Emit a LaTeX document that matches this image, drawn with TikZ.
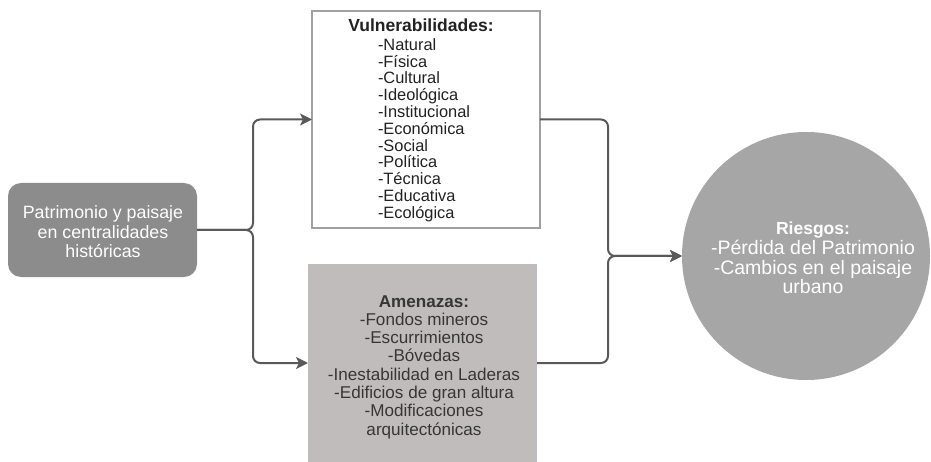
\documentclass[tikz,border=0pt]{standalone}
\usepackage{fontspec}
\setmainfont{Liberation Sans}
\usetikzlibrary{arrows.meta}
\definecolor{boxdark}{HTML}{8C8C8C}
\definecolor{amen}{HTML}{C1BCBC}
\definecolor{circ}{HTML}{A6A6A6}
\definecolor{connc}{HTML}{595959}
\definecolor{vborder}{HTML}{A0A0A0}
\definecolor{txtdark}{HTML}{222222}
\definecolor{txtgrey}{HTML}{363636}
\begin{document}
\begin{tikzpicture}[x=1pt,y=-1pt,
  shapebox/.style={inner sep=0pt, outer sep=0pt},
  txt/.style={inner sep=0pt, outer sep=0pt},
  connector/.style={draw=connc, line width=2pt, rounded corners=7pt},
  tip/.style={-{Stealth[length=12pt,width=12pt,inset=3pt]}}]
\useasboundingbox (0,0) rectangle (931,462);
% shapes
\node[shapebox, fill=boxdark, rounded corners=13pt, minimum width=189pt, minimum height=94pt] (P) at (102.5,230) {};
\node[shapebox, draw=vborder, line width=1.5pt, fill=white, minimum width=228pt, minimum height=217pt] (V) at (426,119.5) {};
\node[shapebox, fill=amen, minimum width=229pt, minimum height=198pt] (A) at (422.5,363) {};
\node[shapebox, fill=circ, circle, minimum size=248pt] (R) at (806,256) {};
% texts
\node[txt, text=white, align=center, font=\fontsize{17.8}{19.5}\selectfont] (Pt) at (103,232) {Patrimonio y paisaje\\en centralidades\\históricas};
\node[txt, text=txtdark, font=\bfseries\fontsize{17.5}{19}\selectfont] (Vt) at (421,25) {Vulnerabilidades:};
\node[txt, text=txtdark, align=left, anchor=west, font=\fontsize{16.4}{16.8}\selectfont] (Vl) at (378,130) {-Natural\\-Física\\-Cultural\\-Ideológica\\-Institucional\\-Económica\\-Social\\-Política\\-Técnica\\-Educativa\\-Ecológica};
\node[txt, text=txtgrey, align=center, font=\fontsize{17.1}{18.3}\selectfont] (At) at (424,367) {\textbf{Amenazas:}\\-Fondos mineros\\-Escurrimientos\\-Bóvedas\\-Inestabilidad en Laderas\\-Edificios de gran altura\\-Modificaciones\\arquitectónicas};
\node[txt, text=white, align=center, font=\fontsize{19.5}{19.7}\selectfont] (Rt) at (813,258) {{\bfseries\fontsize{17.5}{19.7}\selectfont Riesgos:}\\-Pérdida del Patrimonio\\-Cambios en el paisaje\\urbano};
% connectors
\coordinate (j1) at (253,230);
\coordinate (j2) at (608,256);
\draw[connector, tip] (P.east) -- (j1) |- (V.west);
\draw[connector, tip] (P.east) -- (j1) |- (A.west);
\draw[connector, tip] (V.east) -| (j2) -- (R.west);
\draw[connector, tip] (A.east) -| (j2) -- (R.west);
\end{tikzpicture}
\end{document}
